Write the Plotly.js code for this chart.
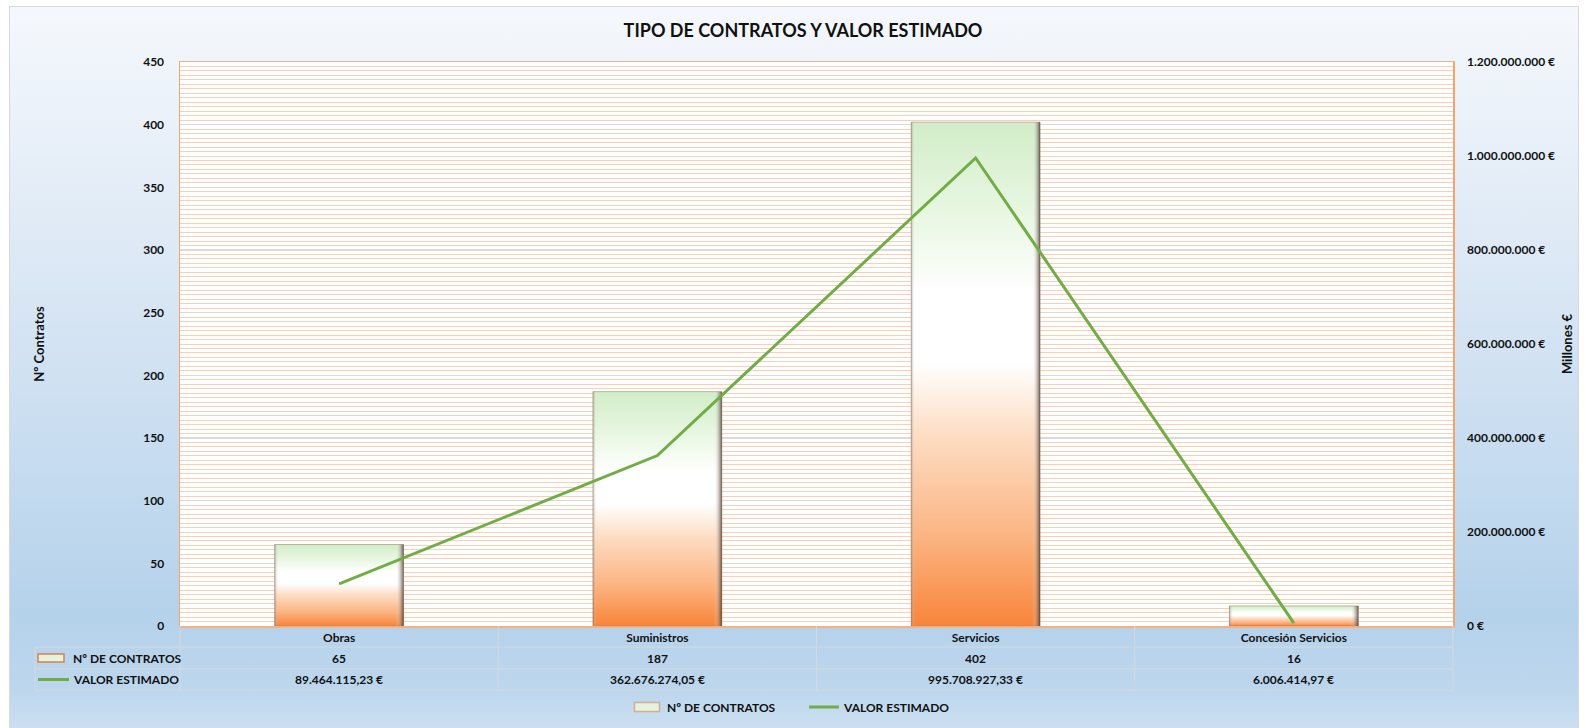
<!DOCTYPE html>
<html>
<head>
<meta charset="utf-8">
<script src="https://cdn.plot.ly/plotly-3.0.1.min.js"></script>
<style>
  html, body { margin:0; padding:0; background:#ffffff; width:1586px; height:728px; overflow:hidden; }
  #frame { position:absolute; left:9px; top:6px; width:1568px; height:740px;
    border:1px solid #D9D9D9;
    background:linear-gradient(to bottom, #F5F8FC 0%, #DCE8F5 35%, #B5D2EB 82%, #BCD6ED 92%, #D2E3F2 100%); }
  #chart { position:absolute; left:0; top:0; width:1586px; height:728px; }
</style>
</head>
<body>
<div id="frame"></div>
<div id="chart"></div>
<script>
// ---- data ----
const categories = ['Obras', 'Suministros', 'Servicios', 'Concesión Servicios'];
const numContratos = [65, 187, 402, 16];
const valorEstimado = [89464115.23, 362676274.05, 995708927.33, 6006414.97];
const seriesNames = ['Nº DE CONTRATOS', 'VALOR ESTIMADO'];
const chartTitle = 'TIPO DE CONTRATOS Y VALOR ESTIMADO';
const yTitle = 'Nº Contratos';
const y2Title = 'Millones €';

// ---- helpers ----
function fmtEuro(v) {
  const parts = v.toFixed(2).split('.');
  const intPart = parts[0].replace(/\B(?=(\d{3})+(?!\d))/g, '.');
  return intPart + ',' + parts[1] + ' €';
}
const W = 1586, H = 728;
const PL = 180, PR = 1453, PT = 62, PB = 626;
const px = x => (x - PL) / (PR - PL);
const py = y => (PB - y) / (PB - PT);

const FONT = 'Lato, "Open Sans", sans-serif';
const TXT = '#111111';
const boldFont = (s) => ({ family: FONT, size: s, color: TXT, weight: 700 });

const traces = [
  {
    type: 'bar', name: seriesNames[0], x: categories, y: numContratos,
    width: 0.405,
    marker: { color: '#F9A36B', line: { color: 'rgba(150,120,100,0.55)', width: 1 } },
    yaxis: 'y', hoverinfo: 'skip'
  },
  {
    type: 'scatter', mode: 'lines', name: seriesNames[1], x: categories, y: valorEstimado,
    line: { color: '#70AD47', width: 3 }, yaxis: 'y2', hoverinfo: 'skip'
  }
];

// table
const gridC = '#D3D9DF';
const shapes = [];
function hline(x0, x1, y) { shapes.push({ type:'line', xref:'paper', yref:'paper', x0:px(x0), x1:px(x1), y0:py(y), y1:py(y), line:{color:gridC, width:1}, layer:'above' }); }
function vline(x, y0, y1) { shapes.push({ type:'line', xref:'paper', yref:'paper', x0:px(x), x1:px(x), y0:py(y0), y1:py(y1), line:{color:gridC, width:1}, layer:'above' }); }
hline(35, PR, 647); hline(35, PR, 669); hline(35, PR, 690);
vline(35, 647, 690);
const colW = (PR - PL) / categories.length;
for (let i = 0; i <= categories.length; i++) vline(PL + i * colW, PB, 690);
// legend keys in table
shapes.push({ type:'rect', xref:'paper', yref:'paper', x0:px(38), x1:px(64), y0:py(662), y1:py(654),
  fillcolor:'#E4F2DE', line:{color:'#D2834C', width:1.5}, layer:'above' });
shapes.push({ type:'line', xref:'paper', yref:'paper', x0:px(38), x1:px(69), y0:py(679.5), y1:py(679.5),
  line:{color:'#70AD47', width:3}, layer:'above' });

const annotations = [];
annotations.push({ xref:'paper', yref:'paper', x:px(71), y:py(658), xanchor:'left', yanchor:'middle', text:seriesNames[0], showarrow:false, font:boldFont(12) });
annotations.push({ xref:'paper', yref:'paper', x:px(71), y:py(679.5), xanchor:'left', yanchor:'middle', text:seriesNames[1], showarrow:false, font:boldFont(12) });
categories.forEach((c, i) => {
  annotations.push({ xref:'x', yref:'paper', x:c, y:py(658), xanchor:'center', yanchor:'middle', text:String(numContratos[i]), showarrow:false, font:boldFont(12) });
  annotations.push({ xref:'x', yref:'paper', x:c, y:py(679.5), xanchor:'center', yanchor:'middle', text:fmtEuro(valorEstimado[i]), showarrow:false, font:boldFont(12) });
});

const layout = {
  width: W, height: H,
  margin: { l: PL, r: W - PR, t: PT, b: H - PB, pad: 0 },
  paper_bgcolor: 'rgba(0,0,0,0)',
  plot_bgcolor: '#FFFFFF',
  separators: ',.',
  title: { text: chartTitle, font: boldFont(18), x: 803 / W, xref: 'container', xanchor: 'center', y: 1 - 31 / H, yref: 'container', yanchor: 'middle' },
  showlegend: true,
  legend: { orientation: 'h', xref: 'container', yref: 'container', x: 627 / W, xanchor: 'left', y: 1 - 707 / H, yanchor: 'middle',
    font: boldFont(12), bgcolor: 'rgba(0,0,0,0)', itemwidth: 30, traceorder: 'normal',
    entrywidth: 132, entrywidthmode: 'pixels' },
  xaxis: {
    type: 'category', showline: true, mirror: true, linecolor: '#F4B183', linewidth: 1.5,
    ticks: '', showgrid: false, zeroline: false, tickfont: boldFont(12), ticklabelstandoff: 0, fixedrange: true
  },
  yaxis: {
    range: [0, 450], dtick: 50, tick0: 0, showline: true, mirror: true, linecolor: '#F4A46A', linewidth: 1.5,
    showgrid: true, gridcolor: '#DADADA', gridwidth: 1.5, zeroline: false,
    minor: { dtick: 50 / 14, tick0: 0, showgrid: true, gridcolor: '#F8CBAD', gridwidth: 0.9, ticks: '' },
    ticks: '', tickfont: boldFont(12), ticklabelstandoff: 12,
    title: { text: yTitle, font: boldFont(13), standoff: 95 }, automargin: false, fixedrange: true
  },
  yaxis2: {
    overlaying: 'y', side: 'right', range: [0, 1.2e9], dtick: 2e8, tick0: 0,
    tickformat: ',.0f', ticksuffix: ' €', showgrid: false, zeroline: false, showline: false,
    ticks: '', tickfont: boldFont(12), ticklabelstandoff: 13,
    title: { text: y2Title, font: boldFont(13), standoff: 8 }, automargin: false, fixedrange: true
  },
  shapes: shapes,
  annotations: annotations
};

function addGradients(gd) {
  const ns = 'http://www.w3.org/2000/svg';
  const svg = gd.querySelector('.main-svg');
  let defs = svg.querySelector('defs');
  if (!defs) { defs = document.createElementNS(ns, 'defs'); svg.insertBefore(defs, svg.firstChild); }
  function grad(id, x2, y2, stops) {
    const lg = document.createElementNS(ns, 'linearGradient');
    lg.setAttribute('id', id);
    lg.setAttribute('x1', '0'); lg.setAttribute('y1', '0');
    lg.setAttribute('x2', x2); lg.setAttribute('y2', y2);
    stops.forEach(s => {
      const st = document.createElementNS(ns, 'stop');
      st.setAttribute('offset', s[0]);
      st.setAttribute('stop-color', s[1]);
      st.setAttribute('stop-opacity', s[2] === undefined ? 1 : s[2]);
      lg.appendChild(st);
    });
    defs.appendChild(lg);
  }
  grad('barGrad', '0', '1', [
    ['0%', '#D2EDC8'], ['18%', '#E8F7E2'], ['34%', '#FFFFFF'], ['48%', '#FFFFFF'],
    ['62%', '#FDDDC4'], ['82%', '#FBB583'], ['100%', '#F8853A']
  ]);
  grad('edgeGrad', '1', '0', [
    ['0%', '#7A6A5E', 0.45], ['3%', '#FFFFFF', 0.0], ['94%', '#FFFFFF', 0.0], ['100%', '#3E2A1E', 0.75]
  ]);
  gd.querySelectorAll('.barlayer .point path').forEach(p => {
    p.style.fill = 'url(#barGrad)';
    const c = p.cloneNode(true);
    c.style.fill = 'url(#edgeGrad)';
    c.style.stroke = 'none';
    p.parentNode.appendChild(c);
  });
  const legTraces = gd.querySelectorAll('.legend .traces');
  if (legTraces.length) {
    const p = legTraces[0].querySelector('.legendpoints path');
    if (p) {
      p.setAttribute('d', 'M12.5,4.5H-12.5V-4.5H12.5Z');
      p.style.fill = '#E4F2DE';
      p.style.stroke = '#D2834C';
      p.style.strokeWidth = '1.5px';
    }
  }
}

Plotly.newPlot('chart', traces, layout, { staticPlot: true, displayModeBar: false })
  .then(gd => addGradients(gd));
</script>
</body>
</html>
